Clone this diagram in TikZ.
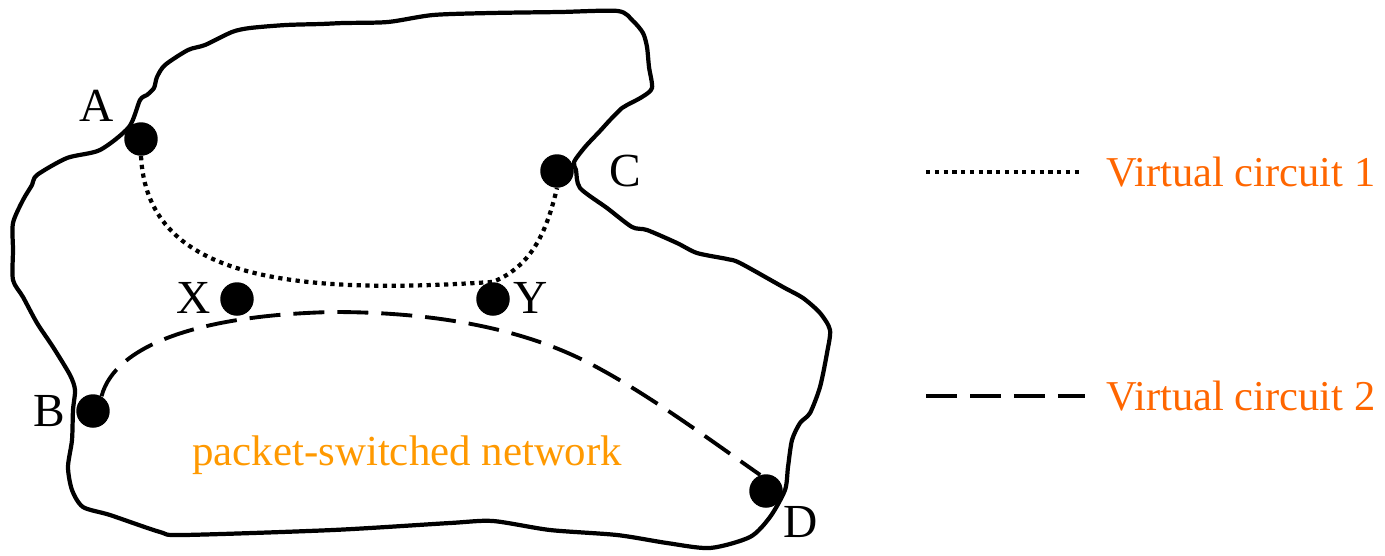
\documentclass[tikz,border=0pt]{standalone}
\usepackage{fontspec}
\setmainfont{Liberation Serif}
\usetikzlibrary{positioning}

\definecolor{vcorange}{HTML}{FF6600}
\definecolor{netorange}{HTML}{FF9900}

\tikzset{
	switchdot/.style={circle,fill=black,inner sep=0pt,minimum size=0.67cm},
	hostname/.style={inner sep=0pt,font=\fontsize{27}{32}\selectfont},
	vcone/.style={line width=2.4pt,dash pattern=on 0.085cm off 0.09cm},
	vctwo/.style={line width=2.2pt,dash pattern=on 0.62cm off 0.26cm},
	legendtext/.style={anchor=base west,inner sep=0pt,text=vcorange,font=\fontsize{24.2}{29}\selectfont}
}

\begin{document}
\begin{tikzpicture}[x=0.02cm,y=-0.02cm]

		\useasboundingbox (0,0) rectangle (1385,555);

		% Network boundary
		\draw[line width=2.4pt,line join=round] plot[smooth cycle,tension=0.45] coordinates {
			(129,127) (140,100) (147,95) (154,88) (157,77) (165,65) (188,50) (205,45)
			(232,32) (250,28) (286,25) (321,24) (344,23) (388,22) (433,15) (491,13)
			(560,12) (618,11) (633,21) (643,33) (647,47) (649,67) (652,88) (642,97)
			(627,105) (622,108) (610,120) (600,131) (585,147) (574,162) (576,170)
			(580,188) (607,208) (632,227) (647,230) (677,243) (697,253) (727,259)
			(740,263) (783,287) (803,298) (820,313) (830,330) (827,353) (820,387)
			(810,413) (800,423) (792,440) (788,467) (785,490) (770,517) (750,537)
			(710,548) (667,543) (617,535) (550,530) (493,521) (450,523) (333,530)
			(183,535) (160,532) (110,515) (83,507) (72,490) (68,467) (72,440) (73,410)
			(75,390) (70,375) (53,347) (37,323) (23,297) (13,280) (13,250) (13,223)
			(23,200) (32,185) (37,175) (67,158) (100,150)};

		% Switches
		\node[switchdot] (A) at (141,139) {};
		\node[switchdot] (C) at (557,171) {};
		\node[switchdot] (X) at (237,299) {};
		\node[switchdot] (Y) at (493,299) {};
		\node[switchdot] (B) at (93,411) {};
		\node[switchdot] (D) at (766,491) {};

		\node[hostname] (Alab) at (97,106) {A};
		\node[hostname] (Clab) at (625,171) {C};
		\node[hostname] (Xlab) at (194,298) {X};
		\node[hostname] (Ylab) at (531,298) {Y};
		\node[hostname] (Blab) at (49,411) {B};
		\node[hostname] (Dlab) at (801,522) {D};

		% Virtual circuits
		\draw[vcone] (A.south) .. controls (147,275) and (280,296) .. (Y.north)
			.. controls (535,265) and (548,225) .. (C.south);
		\draw[vctwo] (B.60) .. controls (115,345) and (200,315) .. (333,312)
			.. controls (416,312) and (508,323) .. (583,360)
			.. controls (643,390) and (710,440) .. (D.110);

		\node[anchor=base west,inner sep=0pt,text=netorange,font=\fontsize{24.4}{29}\selectfont]
			(net) at (192,465) {packet-switched network};

		% Legend
		\coordinate (vc1s) at (926,172);
		\coordinate (vc1e) at (1082,172);
		\coordinate (vc2s) at (926,396);
		\coordinate (vc2e) at (1085,396);
		\draw[vcone] (vc1s) -- (vc1e);
		\draw[vctwo] (vc2s) -- (vc2e);
		\node[legendtext] (vc1) at (1106,186) {Virtual circuit 1};
		\node[legendtext] (vc2) at (1106,410) {Virtual circuit 2};

	\end{tikzpicture}
\end{document}
